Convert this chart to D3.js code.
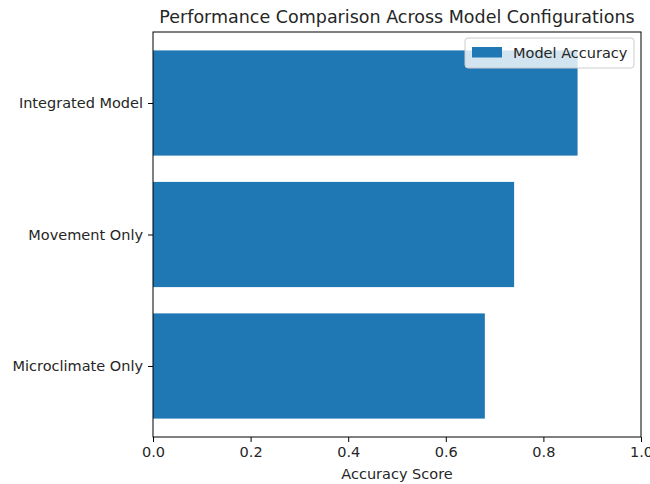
<!DOCTYPE html>
<html>
<head>
<meta charset="utf-8">
<script src="https://cdn.jsdelivr.net/npm/d3@7"></script>
<style>
  body { margin: 0; background: #fff; }
  svg text { font-family: "DejaVu Sans", sans-serif; fill: #262626; }
</style>
</head>
<body>
<svg id="chart" width="650" height="484"></svg>
<script>
// chart data
const configs = ["Microclimate Only", "Movement Only", "Integrated Model"];
const accuracy = [0.68, 0.74, 0.87];
const xTicks = [0.0, 0.2, 0.4, 0.6, 0.8, 1.0];

const plotLeft = 153, plotRight = 641, plotTop = 32, plotBottom = 437;
const barColor = "#1f77b4";
const tickFont = "14.5px";

let svg = d3.select("#chart");

let xScale = d3.scaleLinear().domain([0, 1]).range([plotLeft, plotRight]);
// matplotlib style band: bars 0.8 tall, 5% margins
let yScale = d3.scaleLinear().domain([-0.54, 2.54]).range([plotBottom, plotTop]);

// bars
svg.append("g").selectAll("rect")
  .data(configs)
  .enter().append("rect")
  .attr("x", xScale(0))
  .attr("y", (d, i) => yScale(i + 0.4))
  .attr("width", (d, i) => xScale(accuracy[i]) - xScale(0))
  .attr("height", (d, i) => yScale(i - 0.4) - yScale(i + 0.4))
  .style("fill", barColor);

// frame
svg.append("rect")
  .attr("x", plotLeft).attr("y", plotTop)
  .attr("width", plotRight - plotLeft).attr("height", plotBottom - plotTop)
  .style("fill", "none").style("stroke", "#000").style("stroke-width", 1);

// x axis
let xAxis = d3.axisBottom(xScale).tickValues(xTicks).tickFormat(d3.format(".1f")).tickSize(5).tickPadding(5);
let gx = svg.append("g").attr("transform", "translate(0," + plotBottom + ")").call(xAxis);
gx.select(".domain").remove();
gx.selectAll("text").style("font-size", tickFont).style("font-family", "DejaVu Sans");

// y axis
let yAxis = d3.axisLeft(yScale).tickValues([0, 1, 2]).tickFormat(i => configs[i]).tickSize(5).tickPadding(5);
let gy = svg.append("g").attr("transform", "translate(" + plotLeft + ",0)").call(yAxis);
gy.select(".domain").remove();
gy.selectAll("text").style("font-size", tickFont).style("font-family", "DejaVu Sans");

// labels
svg.append("text")
  .attr("x", (plotLeft + plotRight) / 2).attr("y", 479)
  .attr("text-anchor", "middle")
  .style("font-size", tickFont)
  .text("Accuracy Score");

svg.append("text")
  .attr("x", (plotLeft + plotRight) / 2).attr("y", 23)
  .attr("text-anchor", "middle")
  .style("font-size", "17.5px")
  .text("Performance Comparison Across Model Configurations");

// legend
let legend = svg.append("g");
legend.append("rect")
  .attr("x", 465).attr("y", 38).attr("width", 169).attr("height", 30)
  .attr("rx", 3)
  .style("fill", "rgba(255,255,255,0.8)").style("stroke", "#ccc");
legend.append("rect")
  .attr("x", 472).attr("y", 47).attr("width", 30).attr("height", 10.5)
  .style("fill", barColor);
legend.append("text")
  .attr("x", 513).attr("y", 58)
  .style("font-size", tickFont)
  .text("Model Accuracy");
</script>
</body>
</html>
